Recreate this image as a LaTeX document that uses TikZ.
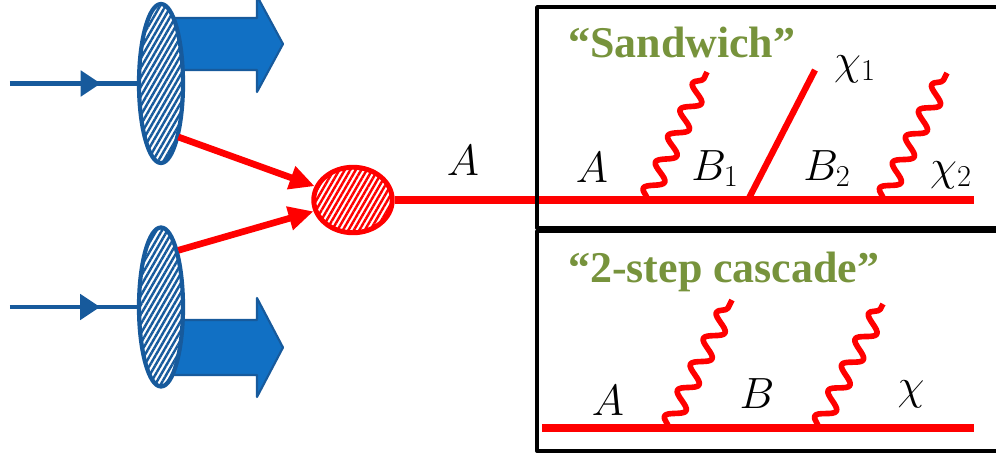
\documentclass[tikz,border=0pt]{standalone}
\usepackage{fontspec}
\newfontfamily\titlefont{Liberation Serif}
\usetikzlibrary{arrows.meta,patterns.meta,decorations.pathmorphing,decorations.markings,shapes.geometric}
\definecolor{hadron}{HTML}{175A9C}
\definecolor{jetblue}{HTML}{1170C4}
\definecolor{olive}{HTML}{77933C}
\begin{document}
\begin{tikzpicture}[
  line join=round,
  proton/.style = {ellipse, draw=hadron, line width=2.4pt, inner sep=0pt,
    minimum width=0.88cm, minimum height=3.18cm, preaction={fill=white},
    pattern={Lines[angle=60,distance=2.7pt,line width=1.4pt]}, pattern color=hadron},
  blob/.style = {ellipse, draw=red, line width=2.8pt, inner sep=0pt,
    minimum width=1.57cm, minimum height=1.31cm, preaction={fill=white},
    pattern={Lines[angle=60,distance=2.7pt,line width=1.4pt]}, pattern color=red},
  beam/.style = {hadron, line width=2.8pt, postaction={decorate},
    decoration={markings, mark=at position 0.71 with {\arrow{Triangle[length=4mm,width=5mm]}}}},
  jet/.style = {fill=jetblue, draw=hadron, line width=1.2pt},
  prop/.style = {red, line width=4.4pt},
  photon/.style = {red, line width=3.2pt, decorate,
    decoration={snake, amplitude=1.7mm, segment length=5.8mm}},
  frame/.style = {draw, line width=2.2pt},
  title/.style = {olive, anchor=base west, font=\titlefont\bfseries\fontsize{25}{30}\selectfont},
  lbl/.style = {anchor=base, font=\fontsize{25}{30}\selectfont}
  ]
  \useasboundingbox (0,0) rectangle (19.92,9.08);
  \draw[jet] (3.2,8.72) -- (5.14,8.72) -- (5.14,9.16) -- (5.66,8.2)
    -- (5.14,7.24) -- (5.14,7.68) -- (3.2,7.68) -- cycle;
  \draw[jet] (3.2,2.68) -- (5.14,2.68) -- (5.14,3.12) -- (5.66,2.13)
    -- (5.14,1.14) -- (5.14,1.58) -- (3.2,1.58) -- cycle;
  \node[proton] (pt) at (3.22,7.41) {};
  \node[proton] (pb) at (3.22,2.94) {};
  \node[blob] (hard) at (7.06,5.08) {};
  \coordinate (int) at (0.2,7.41);
  \coordinate (inb) at (0.2,2.94);
  \draw[beam] (int) -- (pt);
  \draw[beam] (inb) -- (pb);
  \draw[red, line width=3.8pt, -{Triangle[length=5mm,width=4.6mm]}] (pt.-72) -- (hard);
  \draw[red, line width=3.8pt, -{Triangle[length=5mm,width=4.6mm]}] (pb.73) -- (hard);
  \node[lbl] (a0) at (9.26,5.58) {$A$};

  \coordinate (s1) at (12.94,5.08);
  \coordinate (s2) at (14.96,5.08);
  \coordinate (s3) at (17.66,5.08);
  \coordinate (s4) at (19.48,5.08);
  \coordinate (g1) at (14.14,7.64);
  \coordinate (x1) at (16.3,7.68);
  \coordinate (g2) at (18.94,7.62);
  \draw[prop] (hard) -- (s4);
  \draw[photon] (s1) -- (g1);
  \draw[red, line width=3.6pt] (s2) -- (x1);
  \draw[photon] (s3) -- (g2);
  \draw[frame] (10.74,4.52) rectangle (20.5,8.94);
  \node[title] (sw) at (11.24,7.94) {“Sandwich”};
  \node[lbl] (sa) at (11.84,5.44) {$A$};
  \node[lbl] (sb1) at (14.3,5.48) {$B_1$};
  \node[lbl] (sb2) at (16.54,5.48) {$B_2$};
  \node[lbl] (sx1) at (17.1,7.6) {$\chi_1$};
  \node[lbl] (sx2) at (19.02,5.48) {$\chi_2$};

  \coordinate (c0) at (10.84,0.52);
  \coordinate (c1) at (13.36,0.52);
  \coordinate (c2) at (16.36,0.52);
  \coordinate (c3) at (19.48,0.52);
  \coordinate (h1) at (14.64,3.08);
  \coordinate (h2) at (17.66,3.0);
  \draw[prop] (c0) -- (c3);
  \draw[photon] (c1) -- (h1);
  \draw[photon] (c2) -- (h2);
  \draw[frame] (10.74,0.06) rectangle (20.5,4.46);
  \node[title] (cas) at (11.24,3.44) {“2-step cascade”};
  \node[lbl] (ca) at (12.16,0.78) {$A$};
  \node[lbl] (cb) at (15.14,0.92) {$B$};
  \node[lbl] (cx) at (18.22,1.1) {$\chi$};
\end{tikzpicture}
\end{document}
